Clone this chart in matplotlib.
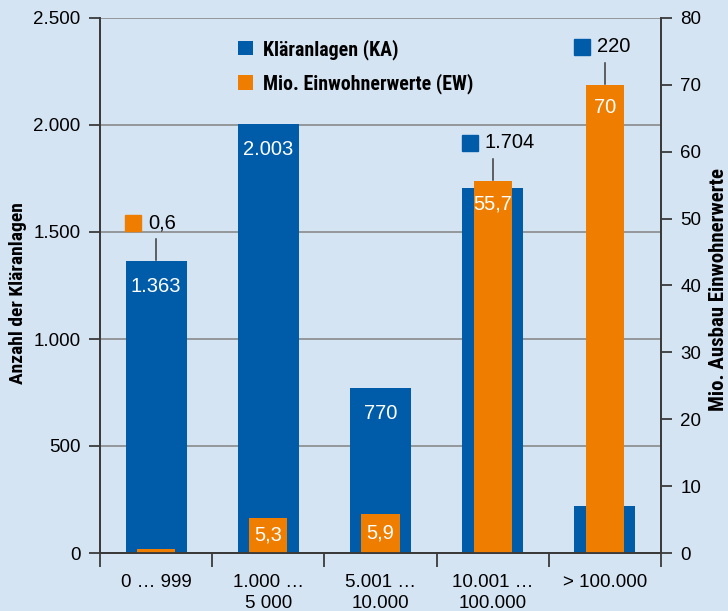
import matplotlib.pyplot as plt
import matplotlib.transforms as mtransforms
from matplotlib.patches import Patch
from matplotlib import font_manager

# data
categories = ['0 … 999', '1.000 …\n5 000', '5.001 …\n10.000', '10.001 …\n100.000', '> 100.000']
ka_values = [1363, 2003, 770, 1704, 220]
ew_values = [0.6, 5.3, 5.9, 55.7, 70]
left_ticks = [0, 500, 1000, 1500, 2000, 2500]
right_ticks = [0, 10, 20, 30, 40, 50, 60, 70, 80]

BG = '#d5e4f3'
BLUE = '#005ca9'
ORANGE = '#ef7d00'
SPINE = '#3a3a3a'
GRID = '#8a8a8a'


def pick_font(names):
    avail = {f.name for f in font_manager.fontManager.ttflist}
    for n in names:
        if n in avail:
            return n
    return 'DejaVu Sans'


NARROW = pick_font(['Liberation Sans Narrow', 'Liberation Sans'])
COND = pick_font(['Liberation Sans Narrow', 'Roboto Condensed', 'DejaVu Sans Condensed', 'Roboto'])
plt.rcParams['font.family'] = [NARROW, 'DejaVu Sans']


def de_fmt(v):
    # german number format: 1.363 / 0,6
    if float(v).is_integer():
        return '{:,}'.format(int(v)).replace(',', '.')
    return str(v).replace('.', ',')


fig = plt.figure(figsize=(7.28, 6.11), dpi=100, facecolor=BG)
ax1 = fig.add_axes([100 / 728, 58 / 611, 561 / 728, 535 / 611])
ax2 = ax1.twinx()
ax1.set_facecolor(BG)

x = [i + 0.5 for i in range(len(categories))]
ax1.bar(x, ka_values, width=0.545, color=BLUE, zorder=2)
ax2.bar(x, ew_values, width=0.34, color=ORANGE, zorder=2)

ax1.set_xlim(0, len(categories))
ax1.set_ylim(0, 2500)
ax2.set_ylim(0, 80)

ax1.set_yticks(left_ticks)
ax1.set_yticklabels([de_fmt(t) for t in left_ticks])
ax2.set_yticks(right_ticks)
ax2.set_yticklabels([str(t) for t in right_ticks])

ax1.set_xticks(range(len(categories) + 1))
ax1.set_xticklabels([])
ax1.set_xticks(x, minor=True)
ax1.set_xticklabels(categories, minor=True, fontsize=13.5, linespacing=1.35)
ax1.tick_params(axis='x', which='minor', length=0, pad=15)
ax1.tick_params(axis='x', which='major', length=10, width=1.3, color=SPINE, direction='out')
ax1.tick_params(axis='y', length=8, width=1.3, color=SPINE, labelsize=13.5, pad=6)
ax2.tick_params(axis='y', length=8, width=1.3, color=SPINE, labelsize=13.5, pad=6)

ax1.yaxis.grid(True, color=GRID, linewidth=1.2, zorder=0)
ax1.set_axisbelow(True)

for ax in (ax1, ax2):
    ax.spines['top'].set_visible(False)
    for s in ('left', 'right', 'bottom'):
        ax.spines[s].set_color(SPINE)
        ax.spines[s].set_linewidth(1.3)
ax2.patch.set_visible(False)

ax1.set_ylabel('Anzahl der Kläranlagen', fontsize=14, fontweight='bold',
               family=[COND, 'DejaVu Sans'])
ax2.set_ylabel('Mio. Ausbau Einwohnerwerte', fontsize=15, fontweight='bold',
               family=[COND, 'DejaVu Sans'])
ax1.yaxis.set_label_coords((18 - 100) / 561, 0.486)
ax2.yaxis.set_label_coords((718 - 100) / 561, 0.493)
ax1.yaxis.label.set_va('center')
ax2.yaxis.label.set_va('center')

# value labels
pix = mtransforms.IdentityTransform()
for xi, ka, ew in zip(x, ka_values, ew_values):
    xp, y_ka = ax1.transData.transform((xi, ka))
    _, y_ew = ax2.transData.transform((xi, ew))
    _, y0 = ax1.transData.transform((xi, 0))
    top = max(y_ka, y_ew)

    ka_out = y_ew > y_ka - 30
    ew_out = (y_ew - y0) < 12

    if not ka_out:
        ax1.text(xp, y_ka - 25, de_fmt(ka), transform=pix, color='white',
                 fontsize=14.5, ha='center', va='center', zorder=5)
    if not ew_out:
        dy = min(23, (y_ew - y0) / 2)
        ax2.text(xp, y_ew - dy, de_fmt(ew), transform=pix, color='white',
                 fontsize=14.5, ha='center', va='center', zorder=5)

    outside = []
    if ka_out:
        outside.append((ka, BLUE))
    if ew_out:
        outside.append((ew, ORANGE))
    for val, col in outside:
        ax2.plot([xp, xp], [top + 1, top + 22], transform=pix, color=SPINE,
                 linewidth=1.1, zorder=5, clip_on=False)
        ax2.plot([xp - 23], [top + 38], transform=pix, marker='s', markersize=11,
                 color=col, linestyle='none', zorder=5, clip_on=False)
        ax2.text(xp - 8, top + 38, de_fmt(val), transform=pix, color='black',
                 fontsize=14.5, ha='left', va='center', zorder=5)

handles = [Patch(facecolor=BLUE, label='Kläranlagen (KA)'),
           Patch(facecolor=ORANGE, label='Mio. Einwohnerwerte (EW)')]
leg = ax1.legend(handles=handles, loc='upper left', bbox_to_anchor=(220 / 728, 1 - 21 / 611),
                 bbox_transform=fig.transFigure, frameon=False, handlelength=0.75,
                 handleheight=0.75, handletextpad=0.5, labelspacing=0.68,
                 prop={'weight': 'bold', 'size': 14.3, 'family': [COND, 'DejaVu Sans']})
leg.set_zorder(10)

fig.savefig('out.png', dpi=100, facecolor=BG)
